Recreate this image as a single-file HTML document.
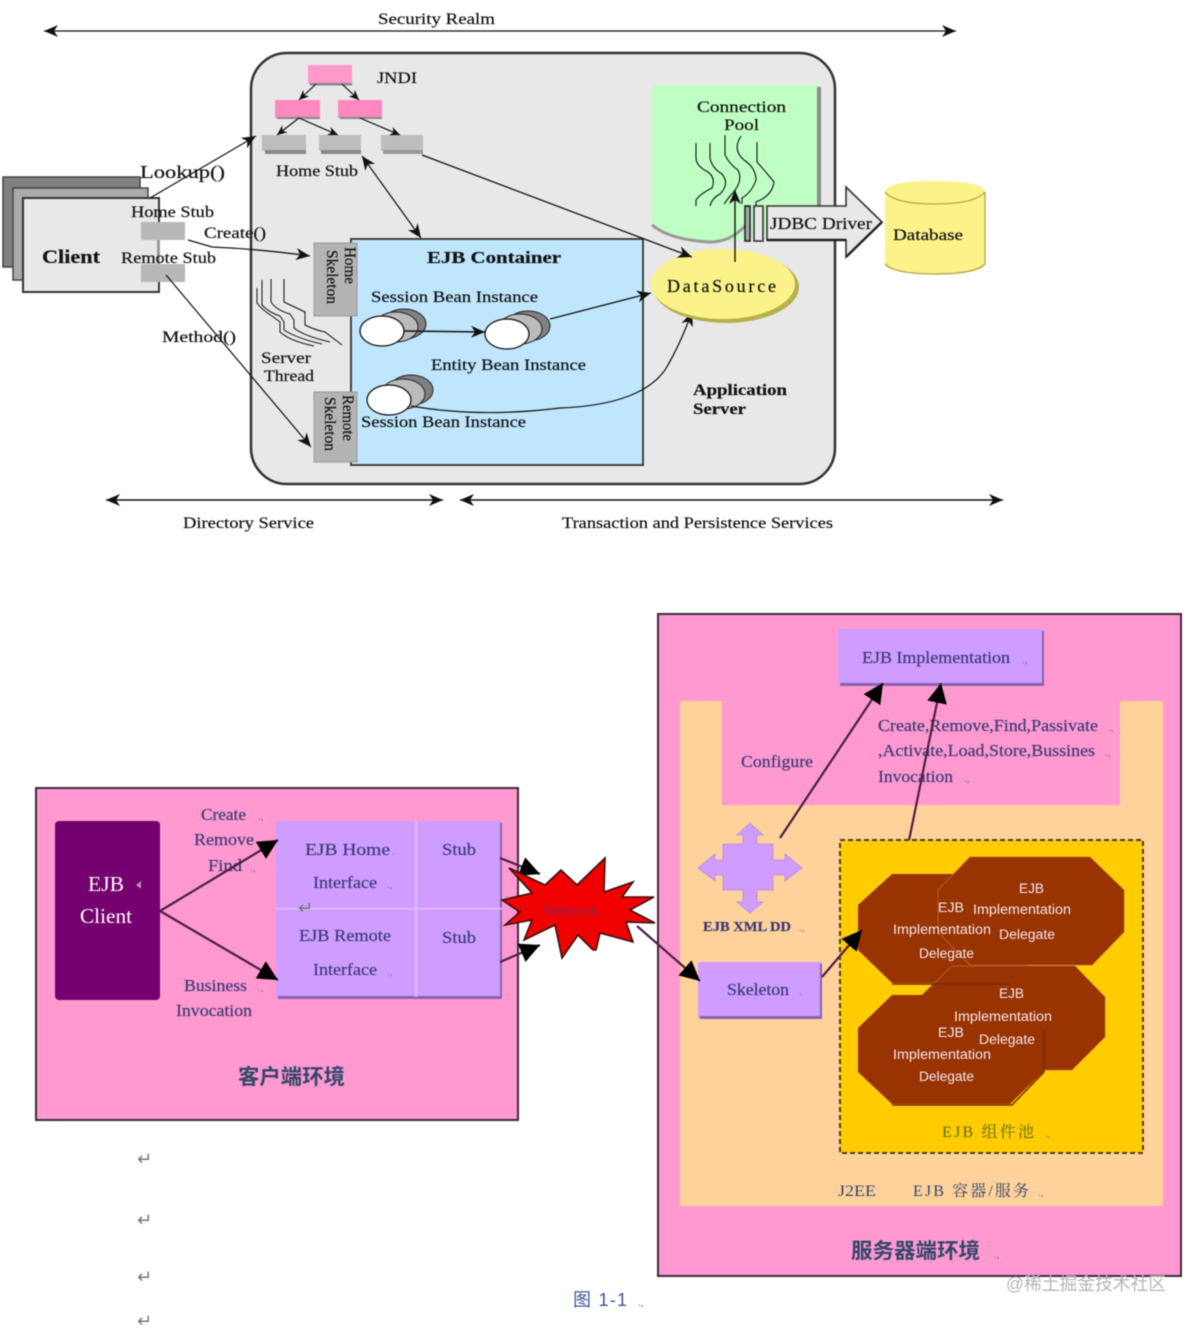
<!DOCTYPE html>
<html><head><meta charset="utf-8">
<style>
html,body{margin:0;padding:0;background:#fff;}
svg{display:block;filter:blur(.4px);}
text{font-family:"Liberation Serif","Noto Serif CJK SC",serif;fill:#111;font-size:16px;stroke:#111;stroke-width:.2px;}
.b{font-family:"Liberation Serif","Noto Serif CJK SC",serif;fill:#3a3a78;stroke:#3a3a78;font-size:17px;}
.d{fill:#33476b;stroke:none;}
.w{font-family:"Liberation Sans","Noto Sans CJK SC",sans-serif;fill:#f2e6f2;font-size:13.5px;stroke:none;}
.m{fill:#7a7a7a;font-size:11px;stroke:none;}
.p{font-family:"DejaVu Sans",sans-serif;fill:#777;font-size:18px;stroke:none;}
</style></head>
<body>
<svg width="1200" height="1328" viewBox="0 0 1200 1328" xmlns="http://www.w3.org/2000/svg">
<defs>
<marker id="a" markerUnits="userSpaceOnUse" markerWidth="16" markerHeight="14" refX="14" refY="6" orient="auto-start-reverse"><path d="M0 0 L14 6 L0 12 L4 6Z" fill="#111"/></marker>
<marker id="s" markerUnits="userSpaceOnUse" markerWidth="12" markerHeight="10" refX="10" refY="4.5" orient="auto"><path d="M0 0 L10 4.5 L0 9 L3 4.5Z" fill="#111"/></marker>
<marker id="h" markerUnits="userSpaceOnUse" markerWidth="24" markerHeight="24" refX="20" refY="10" orient="auto"><path d="M0 0 L20 10 L0 20 Z" fill="#000"/></marker>
</defs>

<!-- TOP DIAGRAM -->
<line x1="44" y1="31" x2="956" y2="31" stroke="#111" stroke-width="1.3" marker-start="url(#a)" marker-end="url(#a)"/>
<text x="378" y="24" textLength="117" lengthAdjust="spacingAndGlyphs">Security Realm</text>

<rect x="251" y="53" width="584" height="431" rx="36" fill="#e8e8e8" stroke="#333" stroke-width="2.5"/>

<!-- Client stack -->
<rect x="3" y="177" width="137" height="90" fill="#808080" stroke="#444" stroke-width="1.5"/>
<rect x="13" y="188" width="135" height="92" fill="#aaaaaa" stroke="#444" stroke-width="1.5"/>
<rect x="23" y="198" width="136" height="94" fill="#e8e8e8" stroke="#333" stroke-width="2"/>
<text x="42" y="263" textLength="58" lengthAdjust="spacingAndGlyphs" font-weight="700" style="font-size:19px">Client</text>
<rect x="141" y="222" width="44" height="18" fill="#b8b8b8"/>
<rect x="141" y="264" width="44" height="18" fill="#b8b8b8"/>
<rect x="157" y="240" width="3" height="24" fill="#999"/>
<text x="131" y="217" textLength="83" lengthAdjust="spacingAndGlyphs">Home Stub</text>
<text x="121" y="263" textLength="95" lengthAdjust="spacingAndGlyphs">Remote Stub</text>

<!-- JNDI tree -->
<rect x="308" y="65" width="44" height="19" fill="#ff99cc"/><rect x="310" y="83" width="42" height="2.5" fill="#888"/>
<rect x="275" y="100" width="45" height="18" fill="#ff88c0"/><rect x="277" y="117" width="43" height="2" fill="#888"/>
<rect x="338" y="100" width="44" height="18" fill="#ff88c0"/><rect x="340" y="117" width="42" height="2" fill="#888"/>
<rect x="262" y="135" width="44" height="16" fill="#bdbdbd"/><rect x="265" y="150" width="41" height="4" fill="#888"/>
<rect x="319" y="135" width="42" height="16" fill="#bdbdbd"/><rect x="321" y="150" width="40" height="4" fill="#888"/>
<rect x="381" y="135" width="42" height="16" fill="#bdbdbd"/><rect x="383" y="150" width="40" height="4" fill="#999"/>
<g stroke="#111" stroke-width="1.2" fill="none">
<line x1="316" y1="84" x2="299" y2="100" marker-end="url(#s)"/>
<line x1="342" y1="84" x2="359" y2="100" marker-end="url(#s)"/>
<line x1="299" y1="118" x2="277" y2="135" marker-end="url(#s)"/>
<line x1="299" y1="118" x2="338" y2="135" marker-end="url(#s)"/>
<line x1="360" y1="118" x2="400" y2="135" marker-end="url(#s)"/>
</g>
<text x="377" y="83" textLength="40" lengthAdjust="spacingAndGlyphs">JNDI</text>
<text x="276" y="176" textLength="82" lengthAdjust="spacingAndGlyphs">Home Stub</text>

<!-- Connectors to/from client -->
<line x1="150" y1="198" x2="256" y2="136" stroke="#111" stroke-width="1.2" marker-end="url(#a)"/>
<text x="140" y="178" textLength="85" lengthAdjust="spacingAndGlyphs" style="font-size:18px">Lookup()</text>
<path d="M188 240 L212 247 Q260 249 310 256" fill="none" stroke="#111" stroke-width="1.3" marker-end="url(#a)"/>
<text x="204" y="238" textLength="62" lengthAdjust="spacingAndGlyphs">Create()</text>
<line x1="166" y1="275" x2="311" y2="447" stroke="#111" stroke-width="1.2" marker-end="url(#a)"/>
<text x="162" y="342" textLength="74" lengthAdjust="spacingAndGlyphs">Method()</text>

<!-- Home stub <-> EJB container -->
<line x1="362" y1="156" x2="421" y2="238" stroke="#111" stroke-width="1.2" marker-start="url(#a)" marker-end="url(#a)"/>

<!-- EJB container -->
<rect x="351" y="239" width="292" height="226" fill="#bfe6fd" stroke="#333" stroke-width="1.8"/>
<text x="427" y="263" textLength="134" lengthAdjust="spacingAndGlyphs" font-weight="700" style="font-size:17px">EJB Container</text>

<!-- Skeletons -->
<rect x="314" y="243" width="43" height="73" fill="#b4b4b4" stroke="#999"/>
<rect x="314" y="392" width="43" height="70" fill="#b4b4b4" stroke="#999"/>
<text transform="translate(345,247) rotate(90)" textLength="37" lengthAdjust="spacingAndGlyphs">Home</text>
<text transform="translate(327,250) rotate(90)" textLength="54" lengthAdjust="spacingAndGlyphs">Skeleton</text>
<text transform="translate(343,395) rotate(90)" textLength="46" lengthAdjust="spacingAndGlyphs">Remote</text>
<text transform="translate(325,397) rotate(90)" textLength="54" lengthAdjust="spacingAndGlyphs">Skeleton</text>

<!-- Server thread -->
<g fill="none" stroke="#111" stroke-width="1">
<path d="M257 288 V303 Q262 310 272 316 L280 322 V332 Q290 341 314 346"/>
<path d="M262 280 V305 Q268 312 280 316 L284 322 V330 Q296 338 322 344"/>
<path d="M271 279 V302 Q276 310 290 314 L294 320 V328 Q304 336 330 342"/>
<path d="M284 279 V302 L305 312 V325 Q315 330 325 332 L342 345"/>
</g>
<text x="261" y="363" textLength="50" lengthAdjust="spacingAndGlyphs">Server</text>
<text x="264" y="381" textLength="50" lengthAdjust="spacingAndGlyphs">Thread</text>

<!-- Beans -->
<text x="371" y="302" textLength="167" lengthAdjust="spacingAndGlyphs">Session Bean Instance</text>
<ellipse cx="404" cy="324" rx="22" ry="15" fill="#808080" stroke="#222" stroke-width="1"/>
<ellipse cx="396" cy="327" rx="22" ry="15" fill="#bbbbbb" stroke="#222" stroke-width="1"/>
<ellipse cx="382" cy="331" rx="22" ry="15" fill="#fff" stroke="#111" stroke-width="1.3"/>
<line x1="404" y1="331" x2="485" y2="332" stroke="#111" stroke-width="1.6" marker-end="url(#a)"/>
<ellipse cx="528" cy="326" rx="22" ry="15" fill="#808080" stroke="#222" stroke-width="1"/>
<ellipse cx="520" cy="329" rx="22" ry="15" fill="#bbbbbb" stroke="#222" stroke-width="1"/>
<ellipse cx="507" cy="334" rx="22" ry="15" fill="#fff" stroke="#111" stroke-width="1.3"/>
<line x1="550" y1="319" x2="651" y2="293" stroke="#111" stroke-width="1.3" marker-end="url(#a)"/>
<text x="431" y="370" textLength="155" lengthAdjust="spacingAndGlyphs">Entity Bean Instance</text>
<ellipse cx="411" cy="390" rx="22" ry="15" fill="#808080" stroke="#222" stroke-width="1"/>
<ellipse cx="403" cy="394" rx="22" ry="15" fill="#bbbbbb" stroke="#222" stroke-width="1"/>
<ellipse cx="389" cy="400" rx="22" ry="15" fill="#fff" stroke="#111" stroke-width="1.3"/>
<text x="361" y="427" textLength="165" lengthAdjust="spacingAndGlyphs">Session Bean Instance</text>
<path d="M411 406 Q480 418 560 408 Q640 405 665 370 Q680 345 692 312" fill="none" stroke="#111" stroke-width="1.2" marker-end="url(#a)"/>

<!-- Connection pool -->
<path d="M652 85 H820 V214 Q770 242 710 241 Q670 240 652 222Z" fill="#bfffc4"/>
<path d="M652 225 Q670 240 710 242 Q730 242 745 226" fill="none" stroke="#999" stroke-width="3"/>
<rect x="817" y="87" width="4" height="130" fill="#8a8a8a"/>
<text x="697" y="112" textLength="89" lengthAdjust="spacingAndGlyphs">Connection</text>
<text x="724" y="130" textLength="35" lengthAdjust="spacingAndGlyphs">Pool</text>
<g fill="none" stroke="#111" stroke-width="1.1">
<path d="M696 143 V158 Q696 166 708 172 Q716 178 712 188 Q700 194 696 200 V206"/>
<path d="M710 143 V158 Q712 168 722 174 Q730 184 720 194 Q712 198 710 206"/>
<path d="M725 135 V155 Q730 165 738 170 Q744 182 730 196 L724 204"/>
<path d="M741 136 Q732 150 744 160 Q756 168 756 180 Q752 192 742 198 V204"/>
<path d="M757 142 V162 Q766 172 774 182 Q772 196 756 202 V212"/>
</g>

<!-- DataSource -->
<ellipse cx="726" cy="287" rx="73" ry="36" fill="#b5b04a"/>
<ellipse cx="723" cy="284" rx="72" ry="35" fill="#fbf38a"/>
<text x="667" y="292" textLength="109" lengthAdjust="spacing" style="font-size:18px">DataSource</text>
<line x1="735" y1="262" x2="735" y2="190" stroke="#111" stroke-width="1.4" marker-end="url(#a)"/>

<!-- line to datasource from stub -->
<line x1="422" y1="155" x2="692" y2="257" stroke="#111" stroke-width="1.3" marker-end="url(#a)"/>

<!-- JDBC -->
<rect x="745" y="206" width="5" height="35" fill="#aaa" stroke="#222" stroke-width="1.6"/>
<rect x="754" y="206" width="9" height="35" fill="#e8e8e8" stroke="#333" stroke-width="1.6"/>
<path d="M767 206 H846 V187 L882 222 L846 257 V240 H767Z" fill="#e8e8e8" stroke="#333" stroke-width="1.6"/>
<path d="M846 257 L882 222 M767 240 H846" stroke="#222" stroke-width="2.4" fill="none"/>
<text x="770" y="229" textLength="102" lengthAdjust="spacingAndGlyphs" style="font-size:17px">JDBC Driver</text>

<!-- Database -->
<path d="M885 192 Q885 181 935 181 Q985 181 985 192 V264 Q985 274 935 274 Q885 274 885 264Z" fill="#fbf38a"/>
<path d="M885 192 Q895 204 935 204 Q975 204 985 192 M985 192 V264 Q975 274 935 274 Q895 274 885 264" fill="none" stroke="#a8a850" stroke-width="1.3"/>
<text x="893" y="240" textLength="70" lengthAdjust="spacingAndGlyphs">Database</text>

<text x="693" y="395" textLength="94" lengthAdjust="spacingAndGlyphs" font-weight="700">Application</text>
<text x="693" y="414" textLength="53" lengthAdjust="spacingAndGlyphs" font-weight="700">Server</text>

<!-- service arrows -->
<line x1="106" y1="500" x2="443" y2="500" stroke="#111" stroke-width="1.4" marker-start="url(#a)" marker-end="url(#a)"/>
<line x1="460" y1="500" x2="1003" y2="500" stroke="#111" stroke-width="1.4" marker-start="url(#a)" marker-end="url(#a)"/>
<text x="183" y="528" textLength="131" lengthAdjust="spacingAndGlyphs">Directory Service</text>
<text x="562" y="528" textLength="271" lengthAdjust="spacingAndGlyphs">Transaction and Persistence Services</text>

<!-- BOTTOM DIAGRAM: client -->
<rect x="36" y="788" width="482" height="332" fill="#ff99cf" stroke="#3d2a3d" stroke-width="2"/>
<rect x="55" y="821" width="105" height="179" rx="4" fill="#75006f"/>
<text x="88" y="891" textLength="36" lengthAdjust="spacingAndGlyphs" style="font-size:21px;fill:#fff;stroke:none">EJB</text>
<text x="80" y="923" textLength="52" lengthAdjust="spacingAndGlyphs" style="font-size:21px;fill:#fff;stroke:none">Client</text>
<path d="M141 881 L136 885 L141 889Z" fill="#b38db3"/>

<rect x="276" y="821" width="226" height="178" fill="#cf9dff"/>
<rect x="278" y="996" width="224" height="3" fill="#8a62b0"/>
<rect x="500" y="823" width="2" height="174" fill="#8a62b0"/>
<rect x="415" y="821" width="2" height="176" fill="#e0bcff"/>
<rect x="276" y="908" width="226" height="1.5" fill="#e0bcff"/>

<text class="b" x="305" y="855" textLength="85" lengthAdjust="spacingAndGlyphs">EJB Home</text>
<text class="b" x="313" y="888" textLength="64" lengthAdjust="spacingAndGlyphs">Interface</text>
<text class="b" x="442" y="855" textLength="34" lengthAdjust="spacingAndGlyphs">Stub</text>
<text class="b" x="299" y="941" textLength="92" lengthAdjust="spacingAndGlyphs">EJB Remote</text>
<text class="b" x="313" y="975" textLength="64" lengthAdjust="spacingAndGlyphs">Interface</text>
<text class="b" x="442" y="943" textLength="34" lengthAdjust="spacingAndGlyphs">Stub</text>
<text class="p" x="298" y="914">↵</text>

<text class="b" x="201" y="820" textLength="45" lengthAdjust="spacingAndGlyphs">Create</text>
<text class="b" x="194" y="845" textLength="60" lengthAdjust="spacingAndGlyphs">Remove</text>
<text class="b" x="208" y="871" textLength="34" lengthAdjust="spacingAndGlyphs">Find</text>
<text class="b" x="184" y="991" textLength="63" lengthAdjust="spacingAndGlyphs">Business</text>
<text class="b" x="176" y="1016" textLength="76" lengthAdjust="spacingAndGlyphs">Invocation</text>
<text class="m" x="258" y="820">.,</text><text class="m" x="250" y="871">.,</text><text class="m" x="258" y="991">.,</text><text class="m" x="392" y="855">.</text><text class="m" x="387" y="888">.,</text><text class="m" x="387" y="975">.,</text>

<line x1="160" y1="911" x2="278" y2="840" stroke="#4a2045" stroke-width="2.2" marker-end="url(#h)"/>
<line x1="160" y1="911" x2="278" y2="980" stroke="#4a2045" stroke-width="2.2" marker-end="url(#h)"/>

<text x="238" y="1084" textLength="107" lengthAdjust="spacingAndGlyphs" font-weight="700" style="font-size:21px;font-family:'Noto Sans CJK SC',sans-serif;fill:#33476b;stroke:none">客户端环境</text>

<!-- Right env -->
<rect x="658" y="614" width="523" height="662" fill="#ff99cf" stroke="#3d2a3d" stroke-width="2"/>
<path d="M680 701 H722 V805 H1120 V701 H1163 V1206 H680Z" fill="#ffd29c"/>

<rect x="838" y="629" width="205" height="55" fill="#cf9dff"/>
<rect x="840" y="683" width="204" height="3" fill="#8a62b0"/>
<rect x="1042" y="631" width="2" height="54" fill="#8a62b0"/>
<text class="b" x="862" y="663" textLength="148" lengthAdjust="spacingAndGlyphs">EJB Implementation</text>
<text class="m" x="1022" y="663">.,</text>

<text class="b" x="741" y="767" textLength="72" lengthAdjust="spacingAndGlyphs">Configure</text>
<text class="b" x="878" y="731" textLength="220" lengthAdjust="spacingAndGlyphs">Create,Remove,Find,Passivate</text>
<text class="b" x="878" y="756" textLength="217" lengthAdjust="spacingAndGlyphs">,Activate,Load,Store,Bussines</text>
<text class="b" x="878" y="782" textLength="75" lengthAdjust="spacingAndGlyphs">Invocation</text>
<text class="m" x="1108" y="731">.,</text><text class="m" x="1105" y="756">.,</text><text class="m" x="964" y="782">.,</text>

<line x1="780" y1="838" x2="883" y2="683" stroke="#4a2045" stroke-width="2.2" marker-end="url(#h)"/>
<line x1="902" y1="875" x2="941" y2="683" stroke="#4a2045" stroke-width="2.2" marker-end="url(#h)"/>

<!-- Pool -->
<rect x="840" y="840" width="303" height="313" fill="#ffcc00" stroke="#4a3a2a" stroke-width="2" stroke-dasharray="5 3"/>
<polygon points="892,874 1010,874 1043,905 1043,950 1010,983 892,983 858,950 858,905" fill="#993300"/>
<polygon points="970,857 1090,857 1124,890 1124,932 1092,965 970,965 938,932 938,890" fill="#993300" stroke="#b06a40" stroke-width="0.8"/>
<polygon points="952,966 1075,966 1105,997 1105,1037 1072,1070 952,1070 920,1037 920,997" fill="#993300" stroke="#b06a40" stroke-width="0.8"/>
<polygon points="892,995 1010,995 1043,1028 1043,1072 1010,1104 892,1104 858,1072 858,1028" fill="#993300"/>
<path d="M892 984 H1010" stroke="#7a2800" stroke-width="1.5" fill="none"/>
<path d="M892 1105 H1012 L1044 1072 V1030" stroke="#7a2800" stroke-width="1.5" fill="none"/>

<text class="w" x="1019" y="893" textLength="25" lengthAdjust="spacingAndGlyphs">EJB</text>
<text class="w" x="973" y="914" textLength="98" lengthAdjust="spacingAndGlyphs">Implementation</text>
<text class="w" x="999" y="939" textLength="56" lengthAdjust="spacingAndGlyphs">Delegate</text>
<text class="w" x="938" y="912" textLength="26" lengthAdjust="spacingAndGlyphs">EJB</text>
<text class="w" x="893" y="934" textLength="98" lengthAdjust="spacingAndGlyphs">Implementation</text>
<text class="w" x="919" y="958" textLength="55" lengthAdjust="spacingAndGlyphs">Delegate</text>
<text class="w" x="999" y="998" textLength="25" lengthAdjust="spacingAndGlyphs">EJB</text>
<text class="w" x="954" y="1021" textLength="98" lengthAdjust="spacingAndGlyphs">Implementation</text>
<text class="w" x="979" y="1044" textLength="56" lengthAdjust="spacingAndGlyphs">Delegate</text>
<text class="w" x="938" y="1037" textLength="26" lengthAdjust="spacingAndGlyphs">EJB</text>
<text class="w" x="893" y="1059" textLength="98" lengthAdjust="spacingAndGlyphs">Implementation</text>
<text class="w" x="919" y="1081" textLength="55" lengthAdjust="spacingAndGlyphs">Delegate</text>

<text x="942" y="1137" textLength="92" lengthAdjust="spacing" style="fill:#5c6a1a;stroke:none">EJB  组件池</text>
<text class="m" x="1045" y="1137">.,</text>
<text class="d" x="838" y="1196" textLength="38" lengthAdjust="spacingAndGlyphs">J2EE</text>
<text class="d" x="913" y="1196" textLength="116" lengthAdjust="spacing">EJB  容器/服务</text>
<text class="m" x="1038" y="1196">.,</text>
<text x="851" y="1258" textLength="129" lengthAdjust="spacingAndGlyphs" font-weight="700" style="font-size:21px;font-family:'Noto Sans CJK SC',sans-serif;fill:#33476b;stroke:none">服务器端环境</text>
<text class="m" x="994" y="1258">.,</text>

<!-- XML DD cross -->
<polygon points="750,823 763,835 757,835 757,844 773,844 773,860 785,860 785,854 802,868 785,881 785,875 773,875 773,890 757,890 757,902 763,902 750,913 737,902 743,902 743,890 723,890 723,875 715,875 715,881 698,868 715,854 715,860 723,860 723,844 743,844 743,835 737,835" fill="#cf9dff" stroke="#b58ae0" stroke-width="0.8"/>
<text class="b" x="703" y="931" textLength="88" lengthAdjust="spacingAndGlyphs" font-weight="700" style="font-size:14px">EJB XML DD</text>
<text class="m" x="799" y="931">.,</text>

<!-- Skeleton -->
<rect x="698" y="962" width="124" height="56" fill="#cf9dff"/>
<rect x="700" y="1016" width="122" height="3" fill="#8a62b0"/>
<rect x="820" y="964" width="2" height="54" fill="#8a62b0"/>
<text class="b" x="727" y="995" textLength="62" lengthAdjust="spacingAndGlyphs">Skeleton</text>
<text class="m" x="799" y="995">.</text>
<line x1="822" y1="977" x2="862" y2="930" stroke="#4a2045" stroke-width="2.2" marker-end="url(#h)"/>

<!-- Network -->
<line x1="500" y1="858" x2="540" y2="874" stroke="#4a2045" stroke-width="2.2" marker-end="url(#h)"/>
<line x1="500" y1="962" x2="540" y2="945" stroke="#4a2045" stroke-width="2.2" marker-end="url(#h)"/>
<polygon points="502,900 532,893 509,868 545,885 561,870 577,885 605,858 604,892 633,882 622,897 654,897 630,910 655,923 626,922 633,942 600,933 596,950 593,950 578,935 562,958 555,925 524,940 532,920 505,925 520,912" fill="#f00000" stroke="#3a1010" stroke-width="1.6"/>
<text x="544" y="915" textLength="54" lengthAdjust="spacingAndGlyphs" style="font-size:14px;fill:#7a2a5a;stroke:none">Network</text>
<line x1="637" y1="926" x2="700" y2="981" stroke="#4a2045" stroke-width="2.2" marker-end="url(#h)"/>

<!-- Paragraph marks & caption -->
<text class="p" x="137" y="1165">↵</text>
<text class="p" x="137" y="1226">↵</text>
<text class="p" x="137" y="1283">↵</text>
<text class="p" x="137" y="1327">↵</text>
<text x="573" y="1306" textLength="54" lengthAdjust="spacing" style="font-family:'Liberation Sans','Noto Sans CJK SC',sans-serif;fill:#3a5a9a;font-size:18px;stroke:none">图 1-1</text>
<text class="m" x="638" y="1306">.,</text>
<text x="1006" y="1290" textLength="160" lengthAdjust="spacingAndGlyphs" style="font-family:'Liberation Sans','Noto Sans CJK SC',sans-serif;fill:#b5b5b5;font-size:18px;stroke:none">@稀土掘金技术社区</text>
</svg>
</body></html>
